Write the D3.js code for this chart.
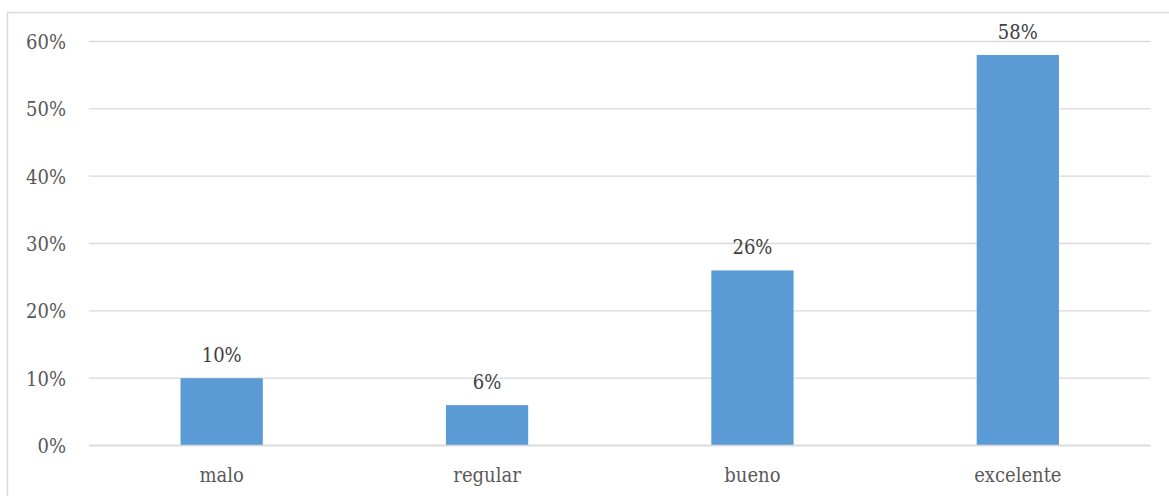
<!DOCTYPE html>
<html>
<head>
<meta charset="utf-8">
<script src="https://cdn.jsdelivr.net/npm/d3@7"></script>
<style>
  body { margin: 0; background: #fff; }
</style>
</head>
<body>
<svg></svg>
<script>
const width = 1169,
      height = 496;

const categories = ['malo', 'regular', 'bueno', 'excelente'];
const values = [10, 6, 26, 58];
const yTicks = [0, 10, 20, 30, 40, 50, 60];

const margin = { top: 41.5, right: 18.5, bottom: 50.5, left: 89 };
const font = "'DejaVu Serif Condensed', 'DejaVu Serif', serif";

const svg = d3.select('svg')
    .attr('width', width)
    .attr('height', height);

// chart area border
svg.append('rect')
    .attr('x', 7.5)
    .attr('y', 12.5)
    .attr('width', width)
    .attr('height', height)
    .attr('fill', 'none')
    .attr('stroke', '#d9d9d9')
    .attr('stroke-width', 1.5);

const x = d3.scaleBand()
    .domain(categories)
    .range([margin.left, width - margin.right])
    .paddingInner(0.69)
    .paddingOuter(0.345);

const y = d3.scaleLinear()
    .domain([0, 60])
    .range([height - margin.bottom, margin.top]);

// gridlines
svg.append('g')
  .selectAll('line')
  .data(yTicks)
  .enter()
  .append('line')
    .attr('x1', margin.left)
    .attr('x2', width - margin.right)
    .attr('y1', (d) => y(d))
    .attr('y2', (d) => y(d))
    .attr('stroke', '#d9d9d9')
    .attr('stroke-width', 1.3);

// y tick labels
svg.append('g')
  .selectAll('text')
  .data(yTicks)
  .enter()
  .append('text')
    .attr('x', 66)
    .attr('y', (d) => y(d) + 7.5)
    .attr('text-anchor', 'end')
    .style('font-family', font)
    .style('font-stretch', 'condensed')
    .attr('font-size', 20)
    .attr('fill', '#595959')
    .text((d) => d + '%');

const data = categories.map((c, i) => ({ cat: c, value: values[i] }));

svg.append('g')
  .selectAll('rect')
  .data(data)
  .enter()
  .append('rect')
    .attr('x', (d) => x(d.cat))
    .attr('y', (d) => y(d.value))
    .attr('width', x.bandwidth())
    .attr('height', (d) => y(0) - y(d.value))
    .attr('fill', '#5b9bd5');

// redraw baseline above bars
svg.append('line')
    .attr('x1', margin.left)
    .attr('x2', width - margin.right)
    .attr('y1', y(0))
    .attr('y2', y(0))
    .attr('stroke', '#d9d9d9')
    .attr('stroke-width', 1.3);

// value labels
svg.append('g')
  .selectAll('text')
  .data(data)
  .enter()
  .append('text')
    .attr('x', (d) => x(d.cat) + x.bandwidth() / 2)
    .attr('y', (d) => y(d.value) - 16)
    .attr('text-anchor', 'middle')
    .style('font-family', font)
    .style('font-stretch', 'condensed')
    .attr('font-size', 20)
    .attr('fill', '#404040')
    .text((d) => d.value + '%');

// category labels
svg.append('g')
  .selectAll('text')
  .data(categories)
  .enter()
  .append('text')
    .attr('x', (d) => x(d) + x.bandwidth() / 2)
    .attr('y', 482)
    .attr('text-anchor', 'middle')
    .style('font-family', font)
    .style('font-stretch', 'condensed')
    .attr('font-size', 20)
    .attr('fill', '#595959')
    .text((d) => d);
</script>
</body>
</html>
